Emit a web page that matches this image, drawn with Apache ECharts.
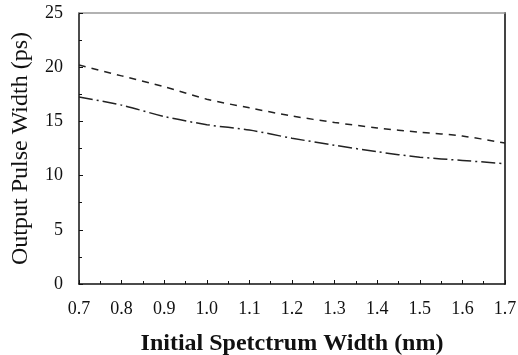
<!DOCTYPE html>
<html lang="en">
<head>
    <meta charset="UTF-8">
    <title>Output Pulse Width</title>
    <script src="https://cdn.jsdelivr.net/npm/echarts@6/dist/echarts.min.js"></script>
    <style>
        body { margin: 0; background: #fff; }
    </style>
</head>
<body>
<div id="main" style="width: 518px;height:355px;"></div>

<script>
    // spectrum width (nm)
    var widths = [0.7, 0.8, 0.9, 1.0, 1.1, 1.2, 1.3, 1.4, 1.5, 1.6, 1.7];
    // dashed curve (upper)
    var upper = [20.2, 19.2, 18.2, 17.05, 16.25, 15.5, 14.9, 14.4, 14.0, 13.65, 13.0];
    // dash-dot curve (lower)
    var lower = [17.25, 16.5, 15.45, 14.7, 14.2, 13.45, 12.8, 12.2, 11.7, 11.4, 11.1];

    var myChart = echarts.init(document.getElementById('main'));

    function pairs(ys) {
        return widths.map(function (x, i) { return [x, ys[i]]; });
    }

    var serif = 'Liberation Serif';

    var option = {
        animation: false,
        grid: { left: 79, right: 13, top: 13, bottom: 71, outerBoundsMode: 'none' },
        xAxis: [{
            type: 'value',
            min: 0.7,
            max: 1.7,
            interval: 0.1,
            name: 'Initial Spetctrum Width (nm)',
            nameLocation: 'middle',
            nameGap: 48,
            nameTextStyle: { fontFamily: serif, fontSize: 24, fontWeight: 'bold', color: '#111' },
            axisLine: { onZero: false, lineStyle: { color: '#111', width: 1.5 } },
            axisTick: { inside: true, length: 4, lineStyle: { color: '#111' } },
            minorTick: { show: true, splitNumber: 2, length: 3, lineStyle: { color: '#111' } },
            splitLine: { show: false },
            axisLabel: {
                fontFamily: serif, fontSize: 18, color: '#111', margin: 16,
                formatter: function (v) { return v.toFixed(1); }
            }
        }, {
            type: 'value',
            position: 'top',
            min: 0.7,
            max: 1.7,
            axisLine: { show: true, onZero: false, lineStyle: { color: '#999', width: 1.5 } },
            axisTick: { show: false },
            axisLabel: { show: false },
            splitLine: { show: false }
        }],
        yAxis: [{
            type: 'value',
            min: 0,
            max: 25,
            interval: 5,
            name: 'Output Pulse Width (ps)',
            nameLocation: 'middle',
            nameGap: 46,
            nameTextStyle: { fontFamily: serif, fontSize: 24, color: '#111' },
            axisLine: { show: true, onZero: false, lineStyle: { color: '#111', width: 1.5 } },
            axisTick: { inside: true, length: 4, lineStyle: { color: '#111' } },
            minorTick: { show: true, splitNumber: 2, length: 3, lineStyle: { color: '#111' } },
            splitLine: { show: false },
            axisLabel: { fontFamily: serif, fontSize: 18, color: '#111', margin: 16 }
        }, {
            type: 'value',
            position: 'right',
            min: 0,
            max: 25,
            axisLine: { show: true, onZero: false, lineStyle: { color: '#444', width: 2 } },
            axisTick: { show: false },
            axisLabel: { show: false },
            splitLine: { show: false }
        }],
        series: [{
            name: 'upper',
            type: 'line',
            data: pairs(upper),
            smooth: 0.3,
            symbol: 'none',
            lineStyle: { color: '#222', width: 1.5, type: [7, 6] }
        }, {
            name: 'lower',
            type: 'line',
            data: pairs(lower),
            smooth: 0.3,
            symbol: 'none',
            lineStyle: { color: '#222', width: 1.5, type: [14, 4, 2, 4] }
        }]
    };

    myChart.setOption(option);
</script>
</body>
</html>
